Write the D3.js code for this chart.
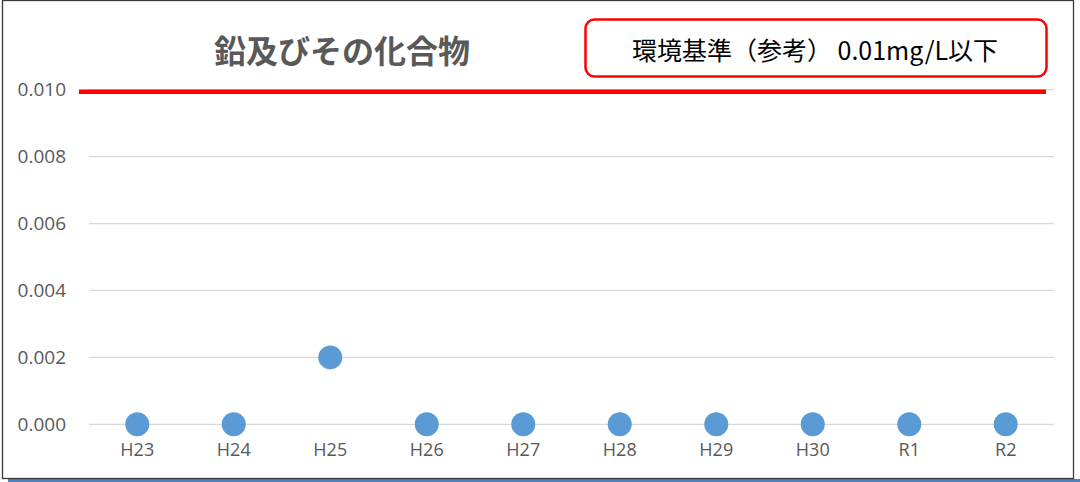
<!DOCTYPE html>
<html><head><meta charset="utf-8">
<script src="https://cdn.jsdelivr.net/npm/d3@7"></script>
<style>html,body{margin:0;padding:0;background:#fff;}svg{display:block;}</style>
</head><body>
<svg id="c" width="1080" height="482"></svg>
<script>
const categories = ["H23","H24","H25","H26","H27","H28","H29","H30","R1","R2"];
const values = [0,0,0.002,0,0,0,0,0,0,0];
const yTicks = [0,0.002,0.004,0.006,0.008,0.010];
const standardValue = 0.01;
const titleText = "鉛及びその化合物";
const legendText = "環境基準（参考） 0.01mg/L以下";

const svg = d3.select("#c");
const W = 1080, H = 482;
const plot = {left: 89, right: 1054, top: 89.7, bottom: 424.3};

// outer frame
svg.append("rect").attr("x",8).attr("y",479).attr("width",W-8).attr("height",3).attr("fill","#4f81bd");
svg.append("rect").attr("x",2.5).attr("y",0.5).attr("width",1071).attr("height",478)
  .attr("fill","#fff").attr("stroke","#3a3a3a").attr("stroke-width",1.3);

const x = d3.scaleBand().domain(categories).range([plot.left, plot.right]);
const y = d3.scaleLinear().domain([0,0.010]).range([plot.bottom, plot.top]);

// gridlines
svg.append("g").selectAll("line").data(yTicks).join("line")
  .attr("x1",plot.left).attr("x2",plot.right)
  .attr("y1",d=>y(d)).attr("y2",d=>y(d))
  .attr("stroke","#d9d9d9").attr("stroke-width",1.3);

// y axis labels
const yAxis = d3.axisLeft(y).tickValues(yTicks).tickFormat(d3.format(".3f")).tickSize(0).tickPadding(0);
const yg = svg.append("g").attr("transform",`translate(66,0)`).call(yAxis);
yg.select(".domain").remove();
yg.selectAll("text").attr("fill","#595959").style("font-family","'Open Sans',sans-serif").style("font-size","19px");

// x axis labels
const xAxis = d3.axisBottom(x).tickSize(0).tickPadding(0);
const xg = svg.append("g").attr("transform",`translate(0,${plot.bottom+19})`).call(xAxis);
xg.select(".domain").remove();
xg.selectAll("text").attr("fill","#595959").style("font-family","'Open Sans',sans-serif").style("font-size","18px");

// standard line (red)
svg.append("line")
  .attr("x1",x.range()[0]-10).attr("x2",x.range()[1]-8)
  .attr("y1",y(standardValue)+2).attr("y2",y(standardValue)+2)
  .attr("stroke","#ff0000").attr("stroke-width",4.5);

// points
svg.append("g").selectAll("circle").data(values).join("circle")
  .attr("cx",(d,i)=>x(categories[i])+x.bandwidth()/2)
  .attr("cy",d=>y(d))
  .attr("r",12)
  .attr("fill","#5b9bd5");

// title
svg.append("text").attr("x",342).attr("y",49).attr("text-anchor","middle").attr("dominant-baseline","central")
  .attr("fill","#595959").style("font-family","'Noto Sans CJK JP',sans-serif").style("font-weight","bold")
  .style("font-size","32px").text(titleText);

// legend box
svg.append("rect").attr("x",585.5).attr("y",19.5).attr("width",461).attr("height",57).attr("rx",9)
  .attr("fill","#fff").attr("stroke","#ff0000").attr("stroke-width",2.5);
svg.append("text").attr("x",815).attr("y",49).attr("text-anchor","middle").attr("dominant-baseline","central")
  .attr("fill","#000").style("font-family","'Noto Sans CJK JP',sans-serif")
  .style("font-size","25px").text(legendText);
</script>
</body></html>
